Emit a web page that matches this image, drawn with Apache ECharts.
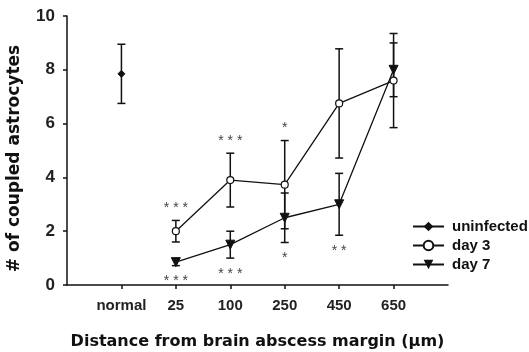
<!DOCTYPE html>
<html>
<head>
<meta charset="utf-8">
<script src="https://cdn.jsdelivr.net/npm/echarts@6/dist/echarts.min.js"></script>
<style>
  html, body { margin: 0; padding: 0; background: #fff; }
  #chart { width: 529px; height: 352px; }
</style>
</head>
<body>
<div id="chart"></div>
<script>
// x categories (distance from abscess margin)
let categories = ['normal', '25', '100', '250', '450', '650'];

// means and error (+/-) per category, null where no point
let uninfected    = [7.85, null, null, null, null, null];
let uninfectedErr = [1.1,  null, null, null, null, null];
let day3    = [null, 2.0, 3.9, 3.73, 6.75, 7.6];
let day3Err = [null, 0.4, 1.0, 1.64, 2.03, 1.75];
let day7    = [null, 0.85, 1.5, 2.5, 3.0, 8.0];
let day7Err = [null, 0.13, 0.5, 0.92, 1.15, 1.0];

// significance marks: above the day 3 bar, below the day 7 bar
let starsAbove = ['', '***', '***', '*', '', ''];
let starsBelow = ['', '***', '***', '*', '**', ''];

let yTicks = [0, 2, 4, 6, 8, 10];

let font = '"Liberation Sans", Arial, sans-serif';

function pts(vals) {
	return vals.map((v, i) => v == null ? null : [i + 1, v]).filter(d => d);
}
function errPts(vals, errs) {
	return vals.map((v, i) => v == null ? null : [i + 1, v - errs[i], v + errs[i]]).filter(d => d);
}

function errRender(params, api) {
	let x = api.value(0);
	let lo = api.coord([x, api.value(1)]);
	let hi = api.coord([x, api.value(2)]);
	let w = 4;
	let st = { stroke: '#111', lineWidth: 1.5 };
	return {
		type: 'group',
		children: [
			{ type: 'line', shape: { x1: lo[0], y1: lo[1], x2: hi[0], y2: hi[1] }, style: st },
			{ type: 'line', shape: { x1: lo[0] - w, y1: lo[1], x2: lo[0] + w, y2: lo[1] }, style: st },
			{ type: 'line', shape: { x1: hi[0] - w, y1: hi[1], x2: hi[0] + w, y2: hi[1] }, style: st }
		]
	};
}

// star positions come from the error bar ends
let starData = categories.map((c, i) => [
	i + 1,
	day3[i] == null ? 0 : day3[i] + day3Err[i],
	day7[i] == null ? 0 : day7[i] - day7Err[i]
]);

function starRender(params, api) {
	let i = params.dataIndex;
	let x = api.value(0);
	let top = api.coord([x, api.value(1)]);
	let bot = api.coord([x, api.value(2)]);
	let kids = [];
	let st = { fill: '#444', font: '14px ' + font, align: 'center', verticalAlign: 'middle' };
	if (starsAbove[i]) {
		kids.push({ type: 'text', x: top[0], y: top[1] - 12, style: Object.assign({ text: starsAbove[i].split('').join(' ') }, st) });
	}
	if (starsBelow[i]) {
		kids.push({ type: 'text', x: bot[0], y: bot[1] + 16, style: Object.assign({ text: starsBelow[i].split('').join(' ') }, st) });
	}
	return { type: 'group', children: kids };
}

let chart = echarts.init(document.getElementById('chart'));

let lineStyle = { color: '#111', width: 1.3 };

let opt = {
	animation: false,
	backgroundColor: '#fff',
	grid: { left: 67, right: 81, top: 16, bottom: 67, outerBoundsMode: 'none' },
	legend: {
		orient: 'vertical',
		left: 412,
		top: 219,
		padding: 0,
		itemWidth: 31,
		itemHeight: 12,
		itemGap: 4,
		data: ['uninfected', 'day 3', 'day 7'],
		textStyle: { color: '#111', fontSize: 15, fontWeight: 'bold', fontFamily: font, padding: [0, 0, 0, 3] }
	},
	xAxis: {
		type: 'value',
		min: 0,
		max: 7,
		interval: 1,
		name: 'Distance from brain abscess margin (µm)',
		nameLocation: 'middle',
		nameGap: 49,
		nameTextStyle: { color: '#111', fontSize: 16, fontWeight: 'bold', fontFamily: '"DejaVu Sans", sans-serif' },
		splitLine: { show: false },
		axisLine: { lineStyle: { color: '#111', width: 1.5 } },
		axisTick: { length: 4, lineStyle: { color: '#111', width: 1.5 }, customValues: [1, 2, 3, 4, 5, 6] },
		axisLabel: {
			customValues: [1, 2, 3, 4, 5, 6],
			formatter: v => categories[v - 1] || '',
			color: '#222', fontSize: 15, fontWeight: 'bold', fontFamily: font, margin: 13
		}
	},
	yAxis: {
		type: 'value',
		min: 0,
		max: 10,
		interval: 2,
		name: '# of coupled astrocytes',
		nameLocation: 'middle',
		nameGap: 44,
		nameTextStyle: { color: '#111', fontSize: 17, fontWeight: 'bold', fontFamily: '"DejaVu Sans", sans-serif', padding: [0, 16, 0, 0] },
		splitLine: { show: false },
		axisLine: { show: true, lineStyle: { color: '#111', width: 1.5 } },
		axisTick: { show: true, length: 4, lineStyle: { color: '#111', width: 1.5 } },
		axisLabel: {
			customValues: yTicks,
			color: '#222', fontSize: 17, fontWeight: 'bold', fontFamily: font, margin: 12
		}
	},
	series: [
		{ type: 'custom', name: 'err-uninfected', renderItem: errRender, data: errPts(uninfected, uninfectedErr), z: 1, silent: true },
		{ type: 'custom', name: 'err-day3', renderItem: errRender, data: errPts(day3, day3Err), z: 1, silent: true },
		{ type: 'custom', name: 'err-day7', renderItem: errRender, data: errPts(day7, day7Err), z: 1, silent: true },
		{ type: 'custom', name: 'stars', renderItem: starRender, data: starData, z: 1, silent: true },
		{
			type: 'line', name: 'uninfected', data: pts(uninfected), z: 3,
			symbol: 'diamond', symbolSize: 7,
			lineStyle: lineStyle,
			itemStyle: { color: '#111', borderColor: '#111' }
		},
		{
			type: 'line', name: 'day 3', data: pts(day3), z: 3,
			symbol: 'circle', symbolSize: 7,
			lineStyle: lineStyle,
			itemStyle: { color: '#fff', borderColor: '#111', borderWidth: 1.2 }
		},
		{
			type: 'line', name: 'day 7', data: pts(day7), z: 3,
			symbol: 'triangle', symbolRotate: 180, symbolSize: 9,
			lineStyle: lineStyle,
			itemStyle: { color: '#111', borderColor: '#111' }
		}
	]
};
chart.setOption(opt);
</script>
</body>
</html>
